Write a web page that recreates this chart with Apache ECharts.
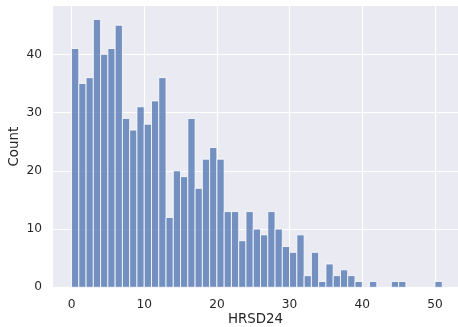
<!DOCTYPE html>
<html>
<head>
<meta charset="utf-8">
<script src="https://cdn.jsdelivr.net/npm/echarts@6/dist/echarts.min.js"></script>
<style>
html,body{margin:0;padding:0;background:#fff;}
#chart{width:458px;height:327px;}
</style>
</head>
<body>
<div id="chart"></div>
<script>
// Histogram bins (left edges) and counts
const binLefts = [0,1,2,3,4,5,6,7,8,9,10,11,12,13,14,15,16,17,18,19,20,21,22,23,24,25,26,27,28,29,30,31,32,33,34,35,36,37,38,39,40,41,42,43,44,45,46,47,48,49,50];
const counts = [41,35,36,46,40,41,45,29,27,31,28,32,36,12,20,19,29,17,22,24,22,13,13,8,13,10,9,13,10,7,6,9,2,6,1,4,2,3,2,1,0,1,0,0,1,1,0,0,0,0,1];
const binWidth = 1;
const xTicks = [0,10,20,30,40,50];
const yTicks = [0,10,20,30,40];
const xLabel = 'HRSD24';
const yLabel = 'Count';

const data = binLefts.map((b, i) => [b, b + binWidth, counts[i]]);

const chart = echarts.init(document.getElementById('chart'), null, {renderer: 'canvas'});
const font = 'DejaVu Sans';
const txt = '#262626';
chart.setOption({
  animation: false,
  backgroundColor: '#ffffff',
  grid: {left: 53, right: 0, top: 6, bottom: 39.7, show: true, backgroundColor: '#EAEAF2', borderWidth: 0,
    containLabel: false, outerBoundsMode: 'none'},
  xAxis: {
    type: 'value', min: -2.55, max: 53.17,
    axisLine: {show: false},
    axisTick: {show: false, customValues: xTicks},
    splitLine: {show: true, lineStyle: {color: '#ffffff', width: 1.1}},
    axisLabel: {color: txt, fontFamily: font, fontSize: 12.2, margin: 12, customValues: xTicks},
    name: xLabel, nameLocation: 'middle', nameGap: 26, nameMoveOverlap: false,
    nameTextStyle: {color: txt, fontFamily: font, fontSize: 13.4}
  },
  yAxis: {
    type: 'value', min: 0, max: 48.3,
    axisLine: {show: false},
    axisTick: {show: false, customValues: yTicks},
    splitLine: {show: true, lineStyle: {color: '#ffffff', width: 1.1}},
    axisLabel: {color: txt, fontFamily: font, fontSize: 12.2, margin: 11, customValues: yTicks},
    name: yLabel, nameLocation: 'middle', nameGap: 32, nameMoveOverlap: false,
    nameTextStyle: {color: txt, fontFamily: font, fontSize: 13.4}
  },
  series: [{
    type: 'custom',
    data: data,
    encode: {x: [0, 1], y: 2},
    renderItem: function (params, api) {
      const x0 = api.value(0), x1 = api.value(1), y = api.value(2);
      if (!y) return null;
      const p0 = api.coord([x0, 0]);
      const p1 = api.coord([x1, y]);
      return {
        type: 'rect',
        shape: {x: p0[0], y: p1[1], width: p1[0] - p0[0], height: p0[1] - p1[1]},
        style: {fill: 'rgba(76,114,176,0.75)', stroke: 'rgba(255,255,255,0.8)', lineWidth: 1}
      };
    }
  }]
});
</script>
</body>
</html>
